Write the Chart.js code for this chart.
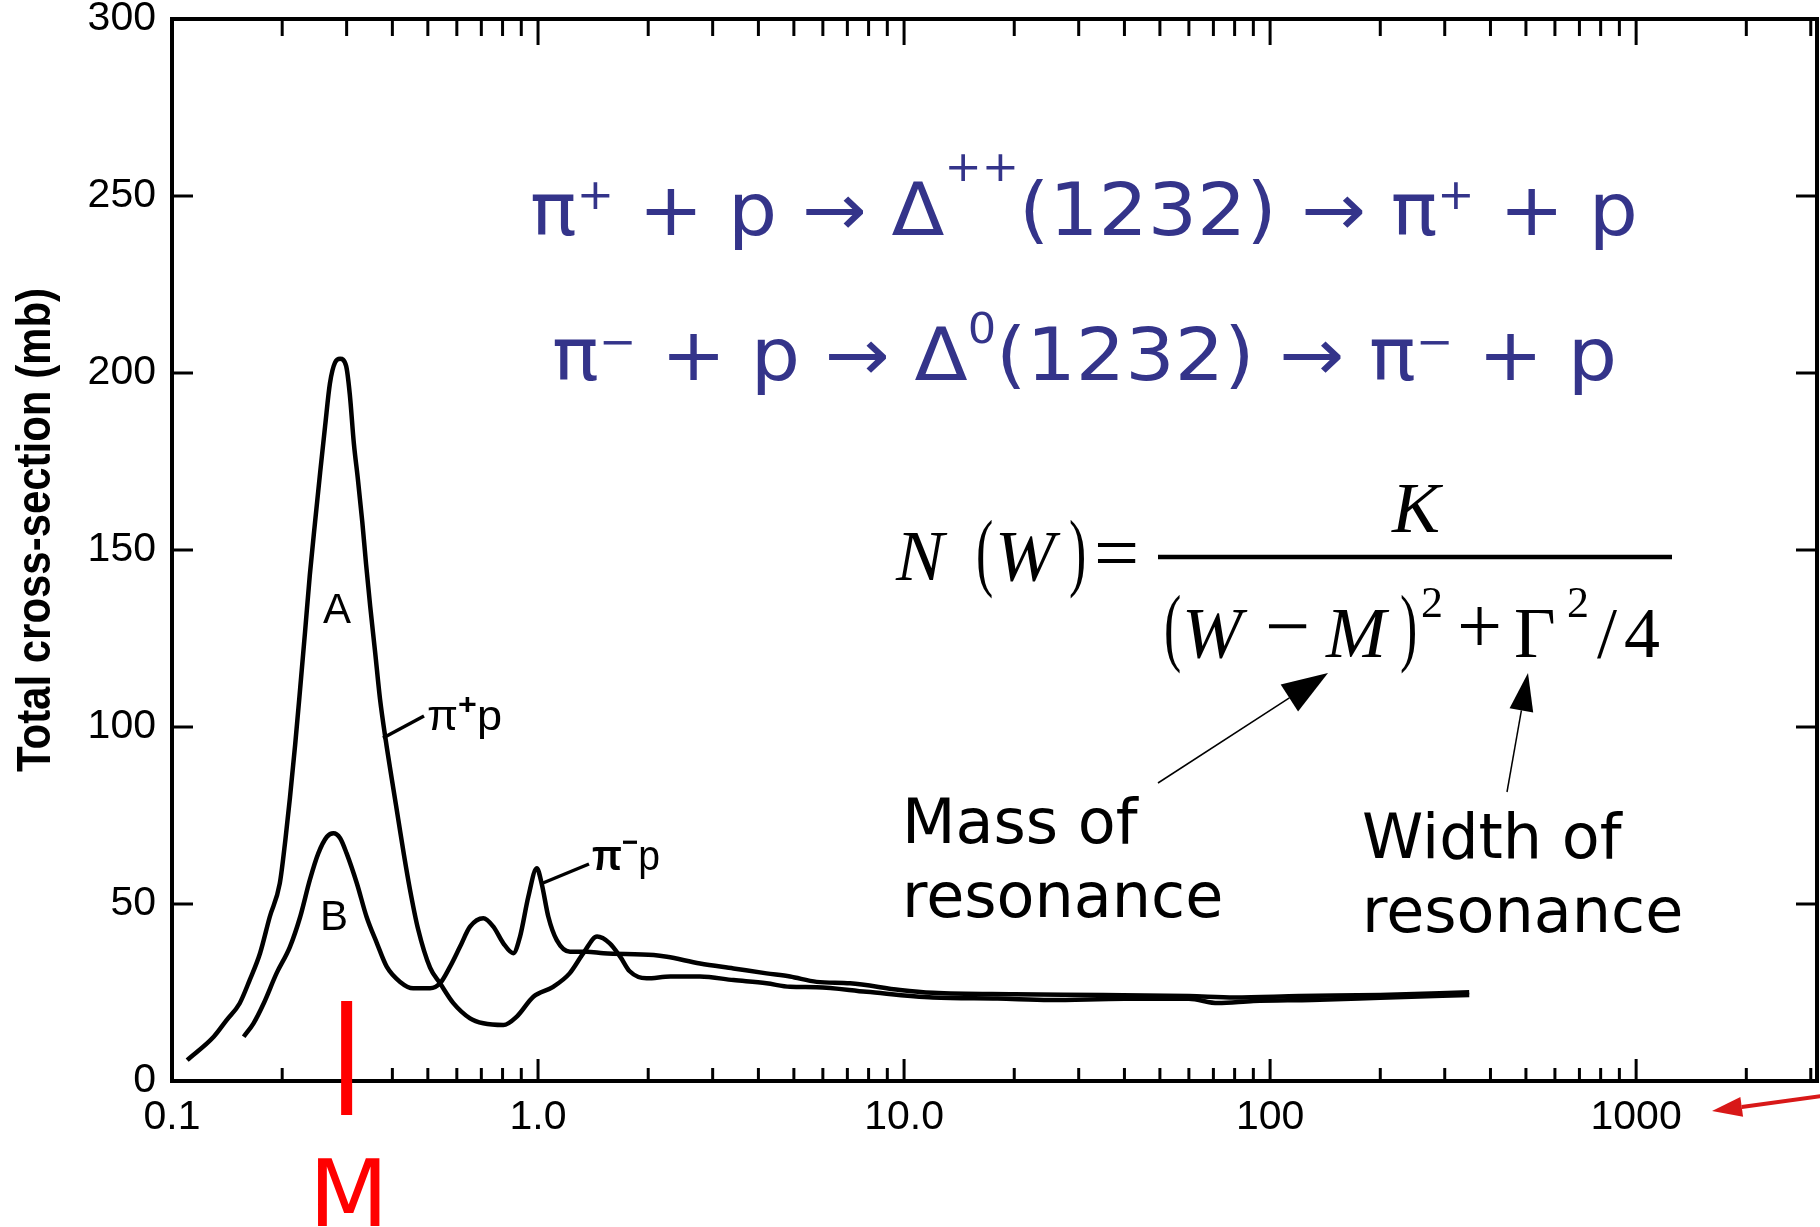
<!DOCTYPE html>
<html>
<head>
<meta charset="utf-8">
<script src="https://cdn.jsdelivr.net/npm/chart.js@4/dist/chart.umd.min.js"></script>
<style>
html,body{margin:0;padding:0;background:#fff;}
#c{display:block;}
</style>
</head>
<body>
<canvas id="c" width="1820" height="1227"></canvas>
<script>
// ---- data ----
// pi+ p  (curve A) : lab momentum (GeV/c) vs total cross-section (mb)
const xA = [0.11,0.13,0.141,0.153,0.163,0.174,0.185,0.197,0.204,0.210,0.217,0.224,0.231,0.238,0.246,0.254,0.262,0.270,0.279,0.288,0.299,0.306,0.314,0.322,0.331,0.339,0.348,0.359,0.370,0.384,0.399,0.415,0.430,0.447,0.470,0.507,0.54,0.587,0.652,0.709,0.804,0.875,0.971,1.10,1.22,1.33,1.45,1.57,1.68,1.78,1.98,2.3,2.77,3.42,4.21,4.88,5.77,7.9,12,18,25,40,60,72,90,130,200,350];
const yA = [5.9,12.5,17.2,21.9,28.5,36.1,46.4,55.8,68,80,95,111,127,143,158,172,185,197,203,204,202,194,180,170,158,146,134,121,108,96,85,74,64,54,43,32,27.6,22,17.7,16.3,15.8,18.2,23.8,26.6,30.4,36.1,40.8,38.9,35,31,29.0,29.5,29.5,28.5,27.6,26.6,26.5,25.2,23.6,23.3,22.9,23.2,23.2,22.0,22.6,22.9,23.5,24.3];
// pi- p  (curve B)
const xB = [0.157,0.167,0.178,0.193,0.21,0.224,0.238,0.251,0.265,0.276,0.288,0.30,0.32,0.34,0.363,0.386,0.42,0.456,0.507,0.54,0.575,0.612,0.652,0.709,0.755,0.804,0.856,0.893,0.941,0.992,1.023,1.067,1.125,1.223,1.358,1.51,2.07,2.25,2.77,3.42,4.21,4.88,5.77,7.12,9.75,12,20,35,60,80,120,200,350];
const yB = [12.5,16.3,21.9,30.4,37.9,46.4,56.8,64.3,69.0,70.0,68.6,64.3,55.8,46.4,38.9,32.3,28.0,26.2,26.2,27.6,32.3,37.9,43.6,46.0,43.6,38.9,36.1,40.8,52.1,60.1,55.8,46.4,39.8,36.5,36.5,36.1,35.6,35.1,33.2,31.8,30.4,29.5,28.0,27.6,25.7,24.9,24.5,24.3,24.0,23.6,24.0,24.3,25.1];
// axes
const xTickValues = [0.1, 1, 10, 100, 1000];
const xTickLabels = ['0.1', '1.0', '10.0', '100', '1000'];
const yTickValues = [0, 50, 100, 150, 200, 250, 300];
const yTitle = 'Total cross-section (mb)';
const markMass = 0.3;

// ---- helpers ----
function drawSegs(ctx, segs, x0, x1, baseline, mainFont, supFont, color) {
  ctx.save();
  ctx.fillStyle = color;
  ctx.textBaseline = 'alphabetic';
  ctx.textAlign = 'left';
  let total = 0;
  const fontOf = s => s[2] || (s[1] ? supFont : mainFont);
  const w = segs.map(s => { ctx.font = fontOf(s); const m = ctx.measureText(s[0]).width; total += m; return m; });
  const sc = (x1 != null) ? (x1 - x0) / total : 1;
  ctx.translate(x0, baseline);
  ctx.scale(sc, 1);
  let x = 0;
  segs.forEach((s, i) => {
    ctx.font = fontOf(s);
    ctx.fillText(s[0], x, -(s[1] || 0));
    x += w[i];
  });
  ctx.restore();
}
function txt(ctx, t, x, y, font, align, color, sy, sx) {
  ctx.save();
  ctx.font = font; ctx.fillStyle = color || '#000';
  ctx.textAlign = align || 'left'; ctx.textBaseline = 'alphabetic';
  ctx.translate(x, y);
  if (sy || sx) ctx.scale(sx || 1, sy || 1);
  ctx.fillText(t, 0, 0);
  ctx.restore();
}
function arrow(ctx, x0, y0, x1, y1, hl, hw, lw, color) {
  const a = Math.atan2(y1 - y0, x1 - x0);
  const bx = x1 - hl * Math.cos(a), by = y1 - hl * Math.sin(a);
  ctx.save();
  ctx.strokeStyle = color; ctx.fillStyle = color; ctx.lineWidth = lw;
  ctx.beginPath(); ctx.moveTo(x0, y0); ctx.lineTo(bx, by); ctx.stroke();
  ctx.beginPath();
  ctx.moveTo(x1, y1);
  ctx.lineTo(bx + hw / 2 * Math.sin(a), by - hw / 2 * Math.cos(a));
  ctx.lineTo(bx - hw / 2 * Math.sin(a), by + hw / 2 * Math.cos(a));
  ctx.closePath(); ctx.fill();
  ctx.restore();
}
function line(ctx, x0, y0, x1, y1, lw, color) {
  ctx.save(); ctx.strokeStyle = color || '#000'; ctx.lineWidth = lw; ctx.lineCap = 'butt';
  ctx.beginPath(); ctx.moveTo(x0, y0); ctx.lineTo(x1, y1); ctx.stroke(); ctx.restore();
}

const framePlugin = {
  id: 'frame',
  afterDatasetsDraw(chart) {
    const ctx = chart.ctx, a = chart.chartArea, xs = chart.scales.x, ys = chart.scales.y;
    ctx.save();
    ctx.strokeStyle = '#000'; ctx.lineWidth = 4;
    ctx.strokeRect(a.left, a.top, a.right - a.left, a.bottom - a.top);
    ctx.lineWidth = 3;
    // log ticks on bottom and top, pointing inward
    for (let e = -1; e <= 3; e++) {
      for (let k = 1; k <= 9; k++) {
        const v = k * Math.pow(10, e);
        if (v < xs.min - 1e-9 || v > xs.max) continue;
        const px = xs.getPixelForValue(v);
        const len = (k === 1) ? 22 : 13;
        ctx.beginPath(); ctx.moveTo(px, a.bottom); ctx.lineTo(px, a.bottom - len); ctx.stroke();
        ctx.beginPath(); ctx.moveTo(px, a.top); ctx.lineTo(px, a.top + len + 4); ctx.stroke();
      }
    }
    yTickValues.forEach(v => {
      const py = ys.getPixelForValue(v);
      ctx.beginPath(); ctx.moveTo(a.left, py); ctx.lineTo(a.left + 21, py); ctx.stroke();
      ctx.beginPath(); ctx.moveTo(a.right, py); ctx.lineTo(a.right - 21, py); ctx.stroke();
    });
    ctx.restore();
  },
  afterDraw(chart) {
    const ctx = chart.ctx, xs = chart.scales.x, ys = chart.scales.y, a = chart.chartArea;
    // y axis title (rotated)
    ctx.save();
    ctx.translate(50, 530);
    ctx.rotate(-Math.PI / 2);
    ctx.font = 'bold 48px "Liberation Sans", Arial, sans-serif';
    const tw = ctx.measureText(yTitle).width;
    ctx.scale(484 / tw, 1);
    ctx.textAlign = 'center'; ctx.textBaseline = 'alphabetic'; ctx.fillStyle = '#000';
    ctx.fillText(yTitle, 0, 0);
    ctx.restore();

    // curve labels
    const lf = '42px "Liberation Sans", Arial, sans-serif';
    const sf = '30px "Liberation Sans", Arial, sans-serif';
    txt(ctx, 'A', 337, 623, lf, 'center');
    txt(ctx, 'B', 334, 930, lf, 'center');
    line(ctx, 383, 738, 424, 716, 3.5);
    drawSegs(ctx, [['π', 0], ['+', 16, 'bold ' + sf], ['p', 0]], 427, 502, 730, lf, sf, '#000');
    line(ctx, 543, 883, 589, 864, 3.5);
    drawSegs(ctx, [['π', 0, 'bold ' + lf], ['−', 18, 'bold ' + sf], ['p', 0]], 592, 660, 870, lf, sf, '#000');

    // blue reaction equations
    const bf = '73px "DejaVu Sans", sans-serif';
    const bs = '42px "DejaVu Sans", sans-serif';
    const blue = '#34348a';
    drawSegs(ctx, [['π', 0], ['+', 26], [' + p → Δ', 0], ['++', 54], ['(1232) → π', 0], ['+', 26], [' + p', 0]], 530, 1638, 235, bf, bs, blue);
    drawSegs(ctx, [['π', 0], ['−', 24], [' + p → Δ', 0], ['0', 37], ['(1232) → π', 0], ['−', 24], [' + p', 0]], 552, 1617, 380, bf, bs, blue);

    // Breit-Wigner formula
    const it = 'italic 72px "Liberation Serif", "Times New Roman", serif';
    const up = '72px "Liberation Serif", "Times New Roman", serif';
    const op = '80px "Liberation Serif", "Times New Roman", serif';
    const sup = '44px "Liberation Serif", "Times New Roman", serif';
    txt(ctx, 'N', 896, 580, it);
    txt(ctx, '(', 976, 580, up, 'left', '#000', 1.2, 0.72);
    txt(ctx, 'W', 995, 580, it);
    txt(ctx, ')', 1069, 580, up, 'left', '#000', 1.2, 0.72);
    txt(ctx, '=', 1094, 580, op);
    line(ctx, 1158, 557, 1672, 557, 4.5);
    txt(ctx, 'K', 1416, 532, it, 'center');
    txt(ctx, '(', 1164, 655, up, 'left', '#000', 1.2, 0.72);
    txt(ctx, 'W', 1182, 657, it);
    txt(ctx, '−', 1265, 653, op);
    txt(ctx, 'M', 1326, 657, it);
    txt(ctx, ')', 1400, 655, up, 'left', '#000', 1.2, 0.72);
    txt(ctx, '2', 1421, 617, sup);
    txt(ctx, '+', 1457, 653, op);
    txt(ctx, 'Γ', 1514, 657, up);
    txt(ctx, '2', 1567, 617, sup);
    txt(ctx, '/', 1597, 657, up);
    txt(ctx, '4', 1624, 657, up);

    // explanatory text and arrows
    const df = '62px "DejaVu Sans", sans-serif';
    txt(ctx, 'Mass of', 902, 843, df);
    txt(ctx, 'resonance', 902, 917, df);
    txt(ctx, 'Width of', 1362, 858, df);
    txt(ctx, 'resonance', 1362, 932, df);
    arrow(ctx, 1158, 783, 1328, 673, 46, 32, 1.5, '#000');
    arrow(ctx, 1507, 792, 1528, 673, 38, 24, 1.5, '#000');

    // red mass marker
    const mx = xs.getPixelForValue(markMass);
    ctx.save(); ctx.fillStyle = '#ff0000';
    ctx.fillRect(mx - 5.5, 1001, 11, 114);
    ctx.restore();
    txt(ctx, 'M', mx + 2, 1226, '92px "DejaVu Sans", sans-serif', 'center', '#ff0000');
    // red arrow at right
    arrow(ctx, 1822, 1096, 1712, 1111, 30, 20, 4, '#d81818');
  }
};

const mk = (xs, ys) => xs.map((x, i) => ({ x: x, y: ys[i] }));

new Chart(document.getElementById('c'), {
  type: 'line',
  data: {
    datasets: [
      { label: 'π+p', data: mk(xA, yA), borderColor: '#000', borderWidth: 4.5, pointRadius: 0, cubicInterpolationMode: 'monotone', fill: false },
      { label: 'π-p', data: mk(xB, yB), borderColor: '#000', borderWidth: 4.5, pointRadius: 0, cubicInterpolationMode: 'monotone', fill: false }
    ]
  },
  options: {
    responsive: false,
    devicePixelRatio: 1,
    animation: false,
    layout: { padding: { top: 19, right: 3, left: 0, bottom: 0 } },
    plugins: { legend: { display: false }, tooltip: { enabled: false }, title: { display: false } },
    scales: {
      x: {
        type: 'logarithmic', min: 0.1, max: 3120,
        grid: { display: false, drawTicks: false },
        border: { display: false },
        afterBuildTicks: s => { s.ticks = xTickValues.map(v => ({ value: v })); },
        afterFit: s => { s.height = 146; s.paddingLeft = 0; s.paddingRight = 0; },
        ticks: {
          autoSkip: false, maxRotation: 0, minRotation: 0, padding: 16, color: '#000',
          font: { family: '"Liberation Sans", Arial, sans-serif', size: 41, lineHeight: 1 },
          callback: (v) => { const i = xTickValues.findIndex(t => Math.abs(t - v) / t < 1e-6); return i >= 0 ? xTickLabels[i] : ''; }
        }
      },
      y: {
        min: 0, max: 300,
        grid: { display: false, drawTicks: false },
        border: { display: false },
        afterBuildTicks: s => { s.ticks = yTickValues.map(v => ({ value: v })); },
        afterFit: s => { s.width = 172; s.paddingTop = 0; s.paddingBottom = 0; },
        ticks: {
          padding: 16, color: '#000',
          font: { family: '"Liberation Sans", Arial, sans-serif', size: 41, lineHeight: 1 }
        }
      }
    }
  },
  plugins: [framePlugin]
});
</script>
</body>
</html>
